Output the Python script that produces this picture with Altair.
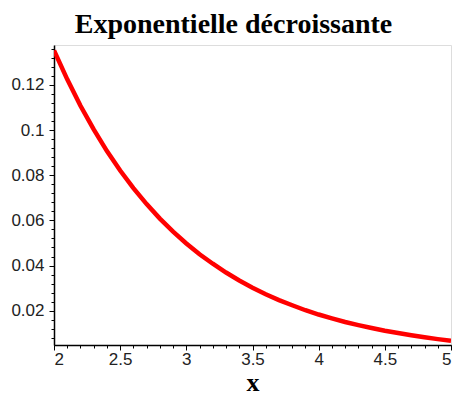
import altair as alt
import pandas as pd

# values
x_vals = [2.0, 2.1, 2.2, 2.3, 2.4, 2.5, 2.6, 2.7, 2.8, 2.9, 3.0, 3.1, 3.2, 3.3, 3.4, 3.5,
          3.6, 3.7, 3.8, 3.9, 4.0, 4.1, 4.2, 4.3, 4.4, 4.5, 4.6, 4.7, 4.8, 4.9, 5.0]
y_vals = [0.1353, 0.1225, 0.1108, 0.1003, 0.0907, 0.0821, 0.0743, 0.0672, 0.0608, 0.0550,
          0.0498, 0.0450, 0.0408, 0.0369, 0.0334, 0.0302, 0.0273, 0.0247, 0.0224, 0.0202,
          0.0183, 0.0166, 0.0150, 0.0136, 0.0123, 0.0111, 0.0101, 0.0091, 0.0082, 0.0074, 0.0067]

x_major = [2, 2.5, 3, 3.5, 4, 4.5, 5]
x_minor = [round(2 + 0.1 * i, 1) for i in range(31)]
y_major = [0.02, 0.04, 0.06, 0.08, 0.1, 0.12]
y_minor = [round(0.008 + 0.004 * i, 3) for i in range(33)]

title_text = "Exponentielle décroissante"
x_title = "x"

df = pd.DataFrame({"x": x_vals, "y": y_vals})

xscale = alt.Scale(domain=[2, 5], nice=False, zero=False)
yscale = alt.Scale(domain=[0.0048, 0.1377], nice=False, zero=False)

label_font = "Liberation Sans"
title_font = "Liberation Serif"

minor = alt.Chart(df).mark_line(color="red", strokeWidth=4, opacity=0).encode(
    x=alt.X("x:Q", scale=xscale, axis=alt.Axis(
        orient="bottom", values=x_minor, labels=False, title=None, domain=False,
        tickSize=3, tickColor="black", grid=False)),
    y=alt.Y("y:Q", scale=yscale, axis=alt.Axis(
        orient="left", values=y_minor, labels=False, title=None, domain=False,
        tickSize=3, tickColor="black", grid=False)),
)

major = alt.Chart(df).mark_line(color="#ff0000", strokeWidth=4.5, clip=True).encode(
    x=alt.X("x:Q", scale=xscale, axis=alt.Axis(
        orient="bottom", values=x_major, title=x_title, grid=False,
        domainColor="black", domainWidth=1.5, tickColor="black", tickSize=5,
        labelFont=label_font, labelFontSize=17, labelColor="#222222",
        labelPadding=1, labelFlush=False,
        labelAlign={"expr": "datum.value == 2 ? 'left' : (datum.value == 5 ? 'right' : 'center')"},
        titleFont=title_font, titleFontSize=26, titleFontWeight="bold",
        titleColor="black", titleBaseline="alphabetic", titlePadding=23, format="~g")),
    y=alt.Y("y:Q", scale=yscale, axis=alt.Axis(
        orient="left", values=y_major, title=None, grid=False,
        domainColor="black", domainWidth=1.5, tickColor="black", tickSize=5,
        labelFont=label_font, labelFontSize=17, labelColor="#222222",
        labelPadding=5, format="~g")),
)

chart = alt.layer(minor, major).resolve_axis(x="independent", y="independent").properties(
    width=397,
    height=300,
    autosize=alt.AutoSizeParams(type="none"),
    padding={"left": 46, "top": 37, "right": 2, "bottom": 50},
    title=alt.TitleParams(title_text, font=title_font, fontSize=28, fontWeight="bold",
                          color="black", anchor="middle", dx=-19, offset=6),
).configure_view(stroke=None).configure(background="white")

chart.save("out.html", embed_options={"renderer": "svg", "actions": False})
